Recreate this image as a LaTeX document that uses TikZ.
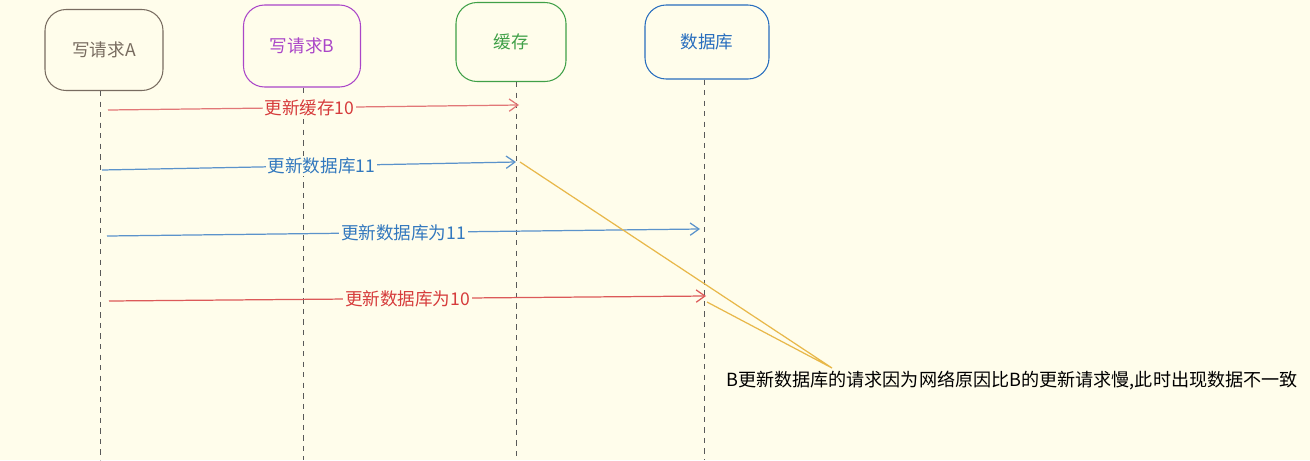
\documentclass[tikz,border=0pt]{standalone}
\usepackage{fontspec}
\setmainfont{Noto Sans CJK SC}
\usetikzlibrary{arrows.meta}
\definecolor{bgpaper}{RGB}{255,253,235}
\definecolor{colA}{RGB}{120,108,96}
\definecolor{colB}{RGB}{170,70,200}
\definecolor{colCache}{RGB}{64,160,72}
\definecolor{colDB}{RGB}{40,110,190}
\definecolor{msgred}{RGB}{214,60,60}
\definecolor{msgblue}{RGB}{50,120,190}
\definecolor{noteline}{RGB}{232,184,74}
\tikzset{
  actor/.style={draw, rounded corners=12pt, line width=0.6pt, font=\fontsize{10}{12}\selectfont},
  lifeline/.style={dashed, gray!70!black, line width=0.5pt},
  msg/.style={-{Straight Barb[length=5pt,width=7pt]}, line width=0.7pt},
  msglabel/.style={fill=bgpaper, inner sep=1pt, font=\fontsize{10}{12}\selectfont}
}
\begin{document}
\begin{tikzpicture}[x=0.02cm, y=-0.02cm]
        \fill[bgpaper] (0,0) rectangle (1310,460);
        \useasboundingbox (0,0) rectangle (1310,460);

        % participants
        \node[actor, colA, minimum width=118*0.02cm, minimum height=81*0.02cm] (wa) at (104,50) {写请求A};
        \node[actor, colB, minimum width=117*0.02cm, minimum height=82*0.02cm] (wb) at (302,46) {写请求B};
        \node[actor, colCache, minimum width=110*0.02cm, minimum height=79*0.02cm] (cache) at (511,42) {缓存};
        \node[actor, colDB, minimum width=124*0.02cm, minimum height=74*0.02cm] (db) at (707,42) {数据库};

        % lifelines
        \coordinate (waend) at (100,460);
        \coordinate (wbend) at (303,460);
        \coordinate (cacheend) at (516,460);
        \coordinate (dbend) at (704,460);
        \draw[lifeline] (wa.south -| waend) -- (waend);
        \draw[lifeline] (wb.south -| wbend) -- (wbend);
        \draw[lifeline] (cache.south -| cacheend) -- (cacheend);
        \draw[lifeline] (db.south -| dbend) -- (dbend);

        % messages
        \coordinate (m1s) at (108,110);
        \coordinate (m1e) at (519,105);
        \coordinate (m2s) at (102,170);
        \coordinate (m2e) at (516,162);
        \coordinate (m3s) at (107,236);
        \coordinate (m3e) at (700,229);
        \coordinate (m4s) at (109,301);
        \coordinate (m4e) at (706,296);
        \draw[msg, msgred!70] (m1s) -- node[msglabel, text=msgred, pos=0.49] (l1) {更新缓存10} (m1e);
        \draw[msg, msgblue!80] (m2s) -- node[msglabel, text=msgblue, pos=0.53] (l2) {更新数据库11} (m2e);
        \draw[msg, msgblue!80] (m3s) -- node[msglabel, text=msgblue] (l3) {更新数据库为11} (m3e);
        \draw[msg, msgred!85] (m4s) -- node[msglabel, text=msgred] (l4) {更新数据库为10} (m4e);

        % note
        \node[font=\fontsize{10.3}{13}\selectfont, inner sep=0pt] (note) at (1012,380) {B更新数据库的请求因为网络原因比B的更新请求慢,此时出现数据不一致};
        \coordinate (tip) at (832,368);
        \coordinate (n1) at (520,162);
        \coordinate (n2) at (707,302);
        \draw[noteline, line width=0.7pt] (n1) -- (tip) -- (n2);
    \end{tikzpicture}
\end{document}
